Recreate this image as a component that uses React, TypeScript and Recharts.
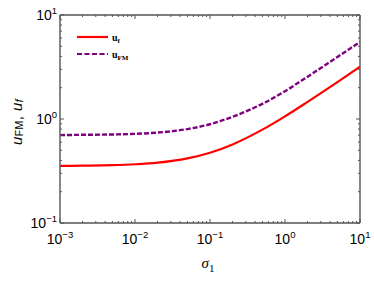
import React from 'react';
import { LineChart, Line, XAxis, YAxis, Legend } from 'recharts';

const sigma = [0.001, 0.002, 0.005, 0.01, 0.02, 0.05, 0.1, 0.2, 0.5, 1, 2, 5, 10];
const uF = [0.354, 0.356, 0.36, 0.367, 0.38, 0.418, 0.474, 0.57, 0.79, 1.06, 1.46, 2.26, 3.18];
const uFM = [0.7, 0.705, 0.71, 0.72, 0.74, 0.8, 0.89, 1.05, 1.4, 1.85, 2.55, 3.95, 5.5];
const xMajor = [0.001, 0.01, 0.1, 1, 10];
const yMajor = [0.1, 1, 10];
const minorMult = [2, 3, 4, 5, 6, 7, 8, 9];

const withMinor = (majors: number[]) => {
  const out: number[] = [];
  majors.forEach((m, i) => {
    out.push(m);
    if (i < majors.length - 1) minorMult.forEach((k) => out.push(+(m * k).toPrecision(6)));
  });
  return out;
};
const xTicks = withMinor(xMajor);
const yTicks = withMinor(yMajor);

const data = sigma.map((s, i) => ({ s, uf: uF[i], ufm: uFM[i] }));

const AX = '#555';
const SANS = '"Liberation Sans", Arial, sans-serif';
const SERIF = '"Liberation Serif", "Times New Roman", serif';

const isMajor = (v: number) => Math.abs(Math.log10(v) - Math.round(Math.log10(v))) < 1e-6;
const expo = (v: number) => {
  const e = Math.round(Math.log10(v));
  return e < 0 ? '\u2212' + -e : String(e);
};

const Pow = ({ x, y, v, anchor }: any) => (
  <text x={x} y={y} textAnchor={anchor} fontFamily={SANS} fontSize={14} fill="#000">
    10
    <tspan dy={-6} fontSize={9.5}>{expo(v)}</tspan>
  </text>
);

const BottomTick = (p: any) => {
  const { x, y, payload } = p;
  const v = payload.value;
  const M = isMajor(v);
  return (
    <g>
      <line x1={x} x2={x} y1={y} y2={y - (M ? 4 : 2)} stroke={AX} strokeWidth={1} />
      {M && <Pow x={x} y={y + 21} v={v} anchor="middle" />}
    </g>
  );
};
const TopTick = (p: any) => {
  const { x, y, payload } = p;
  const M = isMajor(payload.value);
  return <line x1={x} x2={x} y1={y} y2={y + (M ? 4 : 2)} stroke={AX} strokeWidth={1} />;
};
const LeftTick = (p: any) => {
  const { x, y, payload } = p;
  const v = payload.value;
  const M = isMajor(v);
  return (
    <g>
      <line x1={x} x2={x + (M ? 4 : 2)} y1={y} y2={y} stroke={AX} strokeWidth={1} />
      {M && <Pow x={x - 3} y={y + 5} v={v} anchor="end" />}
    </g>
  );
};
const RightTick = (p: any) => {
  const { x, y, payload } = p;
  const M = isMajor(payload.value);
  return <line x1={x} x2={x - (M ? 4 : 2)} y1={y} y2={y} stroke={AX} strokeWidth={1} />;
};

const XLabel = (p: any) => {
  const vb = p.viewBox;
  const cx = vb.x + vb.width / 2 - 2;
  return (
    <text x={cx} y={vb.y + 45} textAnchor="middle" fontFamily={SERIF} fontSize={15} fill="#000">
      <tspan fontStyle="italic">σ</tspan>
      <tspan dy={4} fontSize={11}>1</tspan>
    </text>
  );
};
const YLabel = (p: any) => {
  const vb = p.viewBox;
  const cx = 22;
  const cy = vb.y + vb.height / 2 + 3;
  return (
    <text
      x={cx}
      y={cy}
      transform={`rotate(-90, ${cx}, ${cy})`}
      textAnchor="middle"
      fontFamily={SANS}
      fontSize={15}
      letterSpacing={0.4}
      fill="#000"
    >
      <tspan fontStyle="italic">u</tspan>
      <tspan dy={1} fontSize={10.5}>FM</tspan>
      <tspan dy={-1}>, </tspan>
      <tspan fontStyle="italic">u</tspan>
      <tspan dy={1} fontSize={10.5} fontStyle="italic">f</tspan>
    </text>
  );
};

const LegendContent = () => (
  <div style={{ fontFamily: SERIF, fontWeight: 'bold', fontSize: 10, color: '#000' }}>
    <div style={{ display: 'flex', alignItems: 'center', height: 17 }}>
      <svg width={31} height={6} style={{ display: 'block' }}>
        <line x1={0} x2={31} y1={3} y2={3} stroke="#ff0000" strokeWidth={2.2} />
      </svg>
      <span style={{ marginLeft: 4 }}>
        u<span style={{ fontSize: 7, position: 'relative', top: 2 }}>f</span>
      </span>
    </div>
    <div style={{ display: 'flex', alignItems: 'center', height: 17 }}>
      <svg width={31} height={6} style={{ display: 'block' }}>
        <line x1={0} x2={31} y1={3} y2={3} stroke="#800080" strokeWidth={2.2} strokeDasharray="5 2.5" />
      </svg>
      <span style={{ marginLeft: 4 }}>
        u<span style={{ fontSize: 7, position: 'relative', top: 2 }}>FM</span>
      </span>
    </div>
  </div>
);

export default function App() {
  return (
    <div style={{ position: 'absolute', left: 0, top: 0, width: 374, height: 284, background: '#fff' }}>
      <LineChart width={374} height={284} data={data} margin={{ top: 5, right: 4, bottom: 11, left: 10 }}>
        <XAxis
          xAxisId="b"
          dataKey="s"
          type="number"
          scale="log"
          domain={[0.001, 10]}
          allowDataOverflow
          ticks={xTicks}
          interval={0}
          height={50}
          tickSize={0}
          tickMargin={0}
          tickLine={false}
          tick={BottomTick}
          axisLine={{ stroke: AX, strokeWidth: 1.4 }}
          label={{ content: XLabel }}
        />
        <XAxis
          xAxisId="t"
          orientation="top"
          dataKey="s"
          type="number"
          scale="log"
          domain={[0.001, 10]}
          allowDataOverflow
          ticks={xTicks}
          interval={0}
          height={10}
          tickSize={0}
          tickMargin={0}
          tickLine={false}
          tick={TopTick}
          axisLine={{ stroke: AX, strokeWidth: 1.4 }}
        />
        <YAxis
          yAxisId="l"
          type="number"
          scale="log"
          domain={[0.1, 10]}
          allowDataOverflow
          ticks={yTicks}
          interval={0}
          width={50}
          tickSize={0}
          tickMargin={0}
          tickLine={false}
          tick={LeftTick}
          axisLine={{ stroke: AX, strokeWidth: 1.4 }}
          label={{ content: YLabel }}
        />
        <YAxis
          yAxisId="r"
          orientation="right"
          type="number"
          scale="log"
          domain={[0.1, 10]}
          allowDataOverflow
          ticks={yTicks}
          interval={0}
          width={10}
          tickSize={0}
          tickMargin={0}
          tickLine={false}
          tick={RightTick}
          axisLine={{ stroke: AX, strokeWidth: 1.4 }}
        />
        <Line
          xAxisId="t"
          yAxisId="r"
          dataKey="uf"
          stroke="none"
          dot={false}
          activeDot={false}
          legendType="none"
          isAnimationActive={false}
        />
        <Line
          xAxisId="b"
          yAxisId="l"
          type="monotone"
          dataKey="ufm"
          stroke="#800080"
          strokeWidth={2.4}
          strokeDasharray="5 2"
          dot={false}
          isAnimationActive={false}
        />
        <Line
          xAxisId="b"
          yAxisId="l"
          type="monotone"
          dataKey="uf"
          stroke="#ff0000"
          strokeWidth={2.2}
          dot={false}
          isAnimationActive={false}
        />
        <Legend
          layout="vertical"
          align="center"
          verticalAlign="middle"
          wrapperStyle={{ left: 77, top: 28.5, width: 'auto' }}
          content={LegendContent}
        />
      </LineChart>
    </div>
  );
}
